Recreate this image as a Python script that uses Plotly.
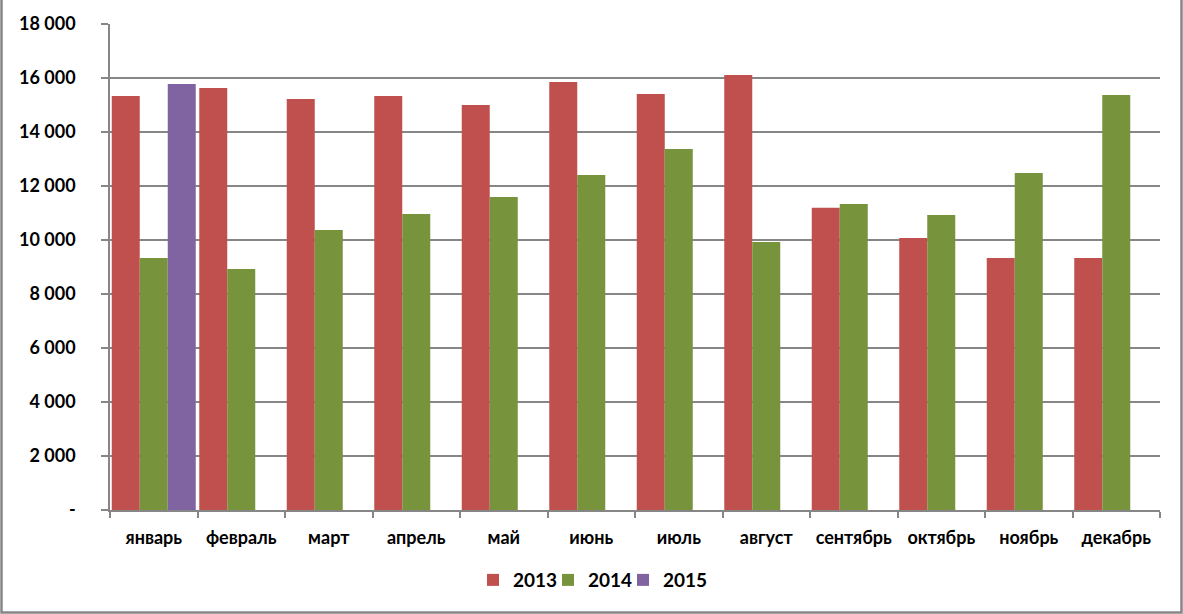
import plotly.graph_objects as go

months = ["январь", "февраль", "март", "апрель", "май", "июнь",
          "июль", "август", "сентябрь", "октябрь", "ноябрь", "декабрь"]
v2013 = [15330, 15630, 15220, 15330, 15000, 15850, 15410, 16110, 11190, 10070, 9330, 9330]
v2014 = [9330, 8930, 10370, 10960, 11590, 12410, 13370, 9930, 11330, 10930, 12480, 15370]
v2015 = [15780, None, None, None, None, None, None, None, None, None, None, None]
tick_vals = [0, 2000, 4000, 6000, 8000, 10000, 12000, 14000, 16000, 18000]
tick_text = ["-", "2 000", "4 000", "6 000", "8 000", "10 000", "12 000", "14 000", "16 000", "18 000"]

FONT = "Lato"
GRID = "#868686"

W, H = 1183, 614
L, R, T, B = 110, 23, 24, 104
pw, ph = W - L - R, H - T - B

fig = go.Figure()
fig.add_trace(go.Bar(name="2013", x=months, y=v2013, marker_color="#C0504D", marker_line_width=0, legend="legend"))
fig.add_trace(go.Bar(name="2014", x=months, y=v2014, marker_color="#77933C", marker_line_width=0, legend="legend2"))
fig.add_trace(go.Bar(name="2015", x=months, y=v2015, marker_color="#8064A2", marker_line_width=0, legend="legend3"))

def leg(sym_center_px):
    return dict(orientation="h", x=(sym_center_px - 20 - L) / pw, xanchor="left",
                y=-0.105, yanchor="top", bgcolor="rgba(0,0,0,0)", borderwidth=0,
                font=dict(family=FONT, size=19, color="black", weight="bold"), itemwidth=30)

fig.update_layout(
    width=W, height=H,
    margin=dict(l=L, r=R, t=T, b=B, autoexpand=False),
    barmode="group", bargap=0.04, bargroupgap=0,
    paper_bgcolor="white", plot_bgcolor="white",
    font=dict(family=FONT, size=18, color="black"),
    showlegend=True,
    legend=leg(493), legend2=leg(568), legend3=leg(643),
    xaxis=dict(showgrid=False, showline=True, linecolor=GRID, linewidth=1.5,
               ticks="outside", tickson="boundaries", ticklen=6, tickcolor=GRID, tickwidth=1.5,
               tickfont=dict(family=FONT, size=18, color="black", weight="bold"),
               tickangle=0, ticklabelstandoff=11, automargin=False),
    yaxis=dict(range=[0, 18000], tickvals=tick_vals, ticktext=tick_text,
               showgrid=True, gridcolor=GRID, gridwidth=1.5,
               showline=True, linecolor=GRID, linewidth=1.5,
               ticks="outside", ticklen=7, tickcolor=GRID, tickwidth=1.5,
               tickfont=dict(family=FONT, size=18, color="black", weight="bold"),
               ticklabelstandoff=22, zeroline=False, automargin=False),
    shapes=[dict(type="rect", xref="paper", yref="paper",
                 x0=(1.5 - L) / pw, x1=(W - 1.5 - L) / pw,
                 y0=-(B - 1.5) / ph, y1=(H - T - 1.5) / ph,
                 line=dict(color=GRID, width=2.5), fillcolor="rgba(0,0,0,0)", layer="below")],
)

fig.write_html("out.html", config={"displayModeBar": False},
               post_script="document.body.style.margin='0';document.body.style.padding='0';document.body.style.overflow='hidden';")
